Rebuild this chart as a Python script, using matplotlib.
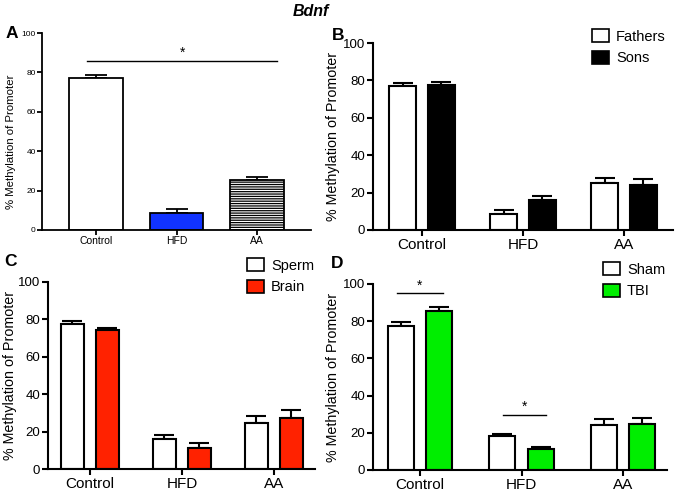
import numpy as np
import matplotlib
matplotlib.use('Agg')
import matplotlib.pyplot as plt
from matplotlib.patches import Patch

plt.rcParams['font.family'] = ['Liberation Sans', 'DejaVu Sans']
plt.rcParams['hatch.linewidth'] = 0.9

groups = ['Control', 'HFD', 'AA']

# panel A
a_mean = [77.0, 8.7, 25.2]
a_sem = [1.6, 1.8, 1.5]

# panel B
b_labels = ['Fathers', 'Sons']
b_fathers = [76.8, 8.5, 25.0]
b_fathers_sem = [1.6, 2.4, 2.7]
b_sons = [77.5, 15.9, 24.3]
b_sons_sem = [1.6, 2.1, 2.8]

# panel C
c_labels = ['Sperm', 'Brain']
c_sperm = [77.7, 15.9, 24.5]
c_sperm_sem = [1.2, 2.1, 4.1]
c_brain = [74.1, 11.4, 27.5]
c_brain_sem = [1.1, 2.3, 4.1]

# panel D
d_labels = ['Sham', 'TBI']
d_sham = [77.6, 18.3, 24.4]
d_sham_sem = [1.9, 1.2, 2.9]
d_tbi = [85.7, 11.1, 24.9]
d_tbi_sem = [1.8, 1.1, 3.2]

W, H = 675, 491
fig = plt.figure(figsize=(W / 100, H / 100), dpi=100)

def add_ax(left, right, top, bottom):
    return fig.add_axes([left / W, 1 - bottom / H, (right - left) / W, (bottom - top) / H])

def style(ax, xfs, yfs, lw, tl):
    ax.spines['top'].set_visible(False)
    ax.spines['right'].set_visible(False)
    ax.spines['left'].set_linewidth(lw)
    ax.spines['bottom'].set_linewidth(lw)
    ax.set_ylim(0, 100)
    ax.set_yticks([0, 20, 40, 60, 80, 100])
    ax.set_xticks(range(3))
    ax.set_xticklabels(groups)
    ax.tick_params(width=lw, length=tl, pad=1)
    ax.tick_params(axis='x', labelsize=xfs)
    ax.tick_params(axis='y', labelsize=yfs)

def bars(ax, x, vals, sem, w, color, cap, lw, hatch=None):
    ax.bar(x, vals, w, color=color, edgecolor='black', linewidth=lw, hatch=hatch, zorder=2)
    ax.errorbar(x, vals, yerr=[np.zeros(len(vals)), sem], fmt='none', ecolor='black',
                elinewidth=lw, capsize=cap, capthick=lw, zorder=1)

x = np.arange(3)

# A
axA = add_ax(42, 311, 33, 230)
style(axA, 7.5, 6, 1.3, 3.5)
axA.set_xlim(-0.67, 2.67)
bars(axA, x[0:1], a_mean[0:1], a_sem[0:1], 0.67, 'white', 8, 1.3)
bars(axA, x[1:2], a_mean[1:2], a_sem[1:2], 0.67, '#1133ff', 8, 1.3)
bars(axA, x[2:3], a_mean[2:3], a_sem[2:3], 0.67, 'white', 8, 1.3, hatch='-------')
axA.set_ylabel('% Methylation of Promoter', fontsize=8.2)
axA.yaxis.set_label_coords(-0.095, 0.45)
axA.plot([-0.11, 2.25], [85.6, 85.6], color='black', lw=1)
axA.text(1.07, 86.5, '*', ha='center', va='bottom', fontsize=10)

def grouped(ax, xl, w, off, s1, e1, s2, e2, c2, labels, leg_xy, lpad):
    style(ax, 11, 9.5, 1.5, 4.5)
    ax.set_xlim(*xl)
    bars(ax, x - off, s1, e1, w, 'white', 7.5, 1.5)
    bars(ax, x + off, s2, e2, w, c2, 7.5, 1.5)
    ax.set_ylabel('% Methylation of Promoter', fontsize=10.3, labelpad=lpad)
    handles = [Patch(facecolor='white', edgecolor='black', linewidth=1.2),
               Patch(facecolor=c2, edgecolor='black', linewidth=1.2)]
    fig.legend(handles, labels, loc='upper left',
               bbox_to_anchor=(leg_xy[0] / W, 1 - leg_xy[1] / H),
               frameon=False, fontsize=10.5, borderpad=0, borderaxespad=0,
               handlelength=1.15, handleheight=1.0, handletextpad=0.5, labelspacing=0.5)

axB = add_ax(373, 673, 43, 230)
grouped(axB, (-0.485, 2.485), 0.27, 0.19,
        b_fathers, b_fathers_sem, b_sons, b_sons_sem, 'black', b_labels, (592, 29), 2)

axC = add_ax(48, 315, 282, 469)
grouped(axC, (-0.456, 2.446), 0.25, 0.19,
        c_sperm, c_sperm_sem, c_brain, c_brain_sem, '#ff2200', c_labels, (247, 258), 0.5)

axD = add_ax(373, 667, 284, 470)
grouped(axD, (-0.463, 2.433), 0.256, 0.19,
        d_sham, d_sham_sem, d_tbi, d_tbi_sem, '#00ee00', d_labels, (603, 262), 2)
axD.plot([-0.23, 0.23], [95, 95], color='black', lw=1, clip_on=False)
axD.text(0, 95.5, '*', ha='center', va='bottom', fontsize=10)
axD.plot([0.82, 1.24], [29.7, 29.7], color='black', lw=1)
axD.text(1.03, 30.2, '*', ha='center', va='bottom', fontsize=10)

fig.text(311 / W, 1 - 11 / H, 'Bdnf', fontsize=11.5, fontweight='bold', fontstyle='italic',
         ha='center', va='center')
for lab, px, py in [('A', 12, 34), ('B', 338, 35), ('C', 11, 262), ('D', 337, 264)]:
    fig.text(px / W, 1 - py / H, lab, fontsize=12.5, fontweight='bold', ha='center', va='center')

fig.savefig('out.png', dpi=100)
